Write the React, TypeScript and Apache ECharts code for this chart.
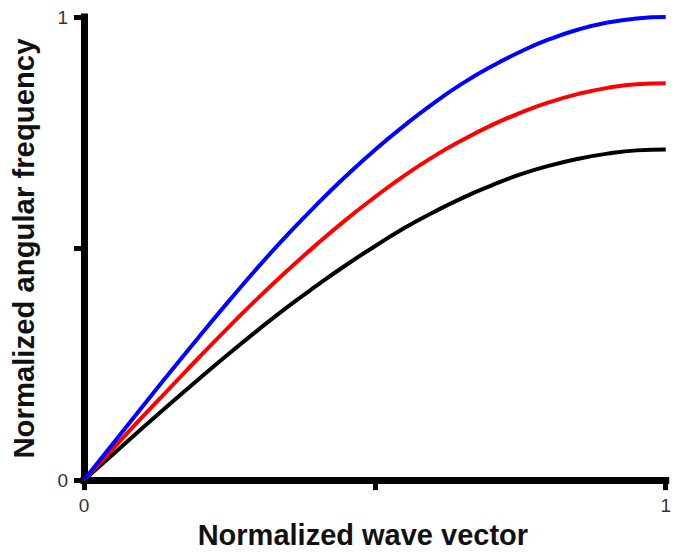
import React, { useEffect, useRef } from "react";
import * as echarts from "echarts";

const waveVector = [0, 0.05, 0.1, 0.15, 0.2, 0.25, 0.3, 0.35, 0.4, 0.45, 0.5, 0.55, 0.6, 0.65, 0.7, 0.75, 0.8, 0.85, 0.9, 0.95, 1];
const blueFreq = [0, 0.079, 0.158, 0.236, 0.313, 0.388, 0.461, 0.53, 0.595, 0.656, 0.713, 0.765, 0.813, 0.856, 0.893, 0.925, 0.952, 0.973, 0.988, 0.997, 1.0];
const redFreq = [0, 0.068, 0.136, 0.202, 0.268, 0.332, 0.394, 0.453, 0.509, 0.562, 0.611, 0.657, 0.698, 0.734, 0.766, 0.793, 0.816, 0.834, 0.847, 0.855, 0.857];
const blackFreq = [0, 0.056, 0.112, 0.167, 0.221, 0.274, 0.325, 0.374, 0.42, 0.464, 0.505, 0.544, 0.578, 0.609, 0.636, 0.66, 0.679, 0.694, 0.705, 0.712, 0.714];
const tickLabels = ["0", "1"];
const xName = "Normalized wave vector";
const yName = "Normalized angular frequency";

const pairs = (ys: number[]) => waveVector.map((x, i) => [x, ys[i]]);
const fmt = (v: number) => (v === 0 ? tickLabels[0] : v === 1 ? tickLabels[1] : "");

export default function App() {
  const ref = useRef<HTMLDivElement>(null);
  useEffect(() => {
    if (!ref.current) return;
    const chart = echarts.init(ref.current, null, { renderer: "svg" });
    const axisCommon = {
      type: "value" as const,
      min: 0,
      max: 1,
      interval: 0.5,
      splitLine: { show: false },
      axisLine: { show: true, lineStyle: { color: "#000", width: 7, cap: "square" } },
      axisTick: { show: true, length: 10, lineStyle: { color: "#000", width: 5 } },
      axisLabel: {
        formatter: fmt,
        color: "#333",
        fontSize: 19,
        fontFamily: "Liberation Sans, Arial, sans-serif",
        margin: 16,
      },
      nameLocation: "middle" as const,
      nameTextStyle: {
        color: "#111",
        fontSize: 29,
        fontWeight: "bold" as const,
        fontFamily: "Liberation Sans, Arial, sans-serif",
      },
    };
    chart.setOption({
      animation: false,
      backgroundColor: "#fff",
      grid: { left: 84, right: 2, top: 17, bottom: 61, containLabel: false },
      xAxis: {
        ...axisCommon,
        name: xName,
        nameGap: 30,
        nameTextStyle: { ...axisCommon.nameTextStyle, padding: [0, 24, 0, 0] },
      },
      yAxis: {
        ...axisCommon,
        name: yName,
        nameGap: 46,
        nameTextStyle: { ...axisCommon.nameTextStyle, fontSize: 29.3 },
      },
      series: [
        { type: "line", data: pairs(blackFreq), smooth: true, showSymbol: false, lineStyle: { color: "#000", width: 4 } },
        { type: "line", data: pairs(redFreq), smooth: true, showSymbol: false, lineStyle: { color: "#ff0000", width: 4 } },
        { type: "line", data: pairs(blueFreq), smooth: true, showSymbol: false, lineStyle: { color: "#0000ff", width: 4 } },
      ],
    });
    return () => chart.dispose();
  }, []);
  return (
    <div
      ref={ref}
      style={{ position: "fixed", left: 0, top: 0, width: 674, height: 554, background: "#fff" }}
    />
  );
}
